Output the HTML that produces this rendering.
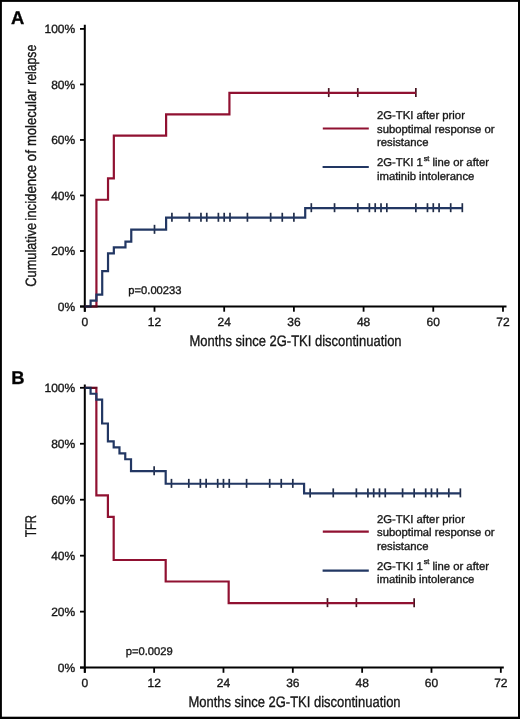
<!DOCTYPE html>
<html><head><meta charset="utf-8"><title>Figure</title>
<style>html,body{margin:0;padding:0;background:#fff;width:520px;height:719px;overflow:hidden}svg{display:block}text{text-rendering:geometricPrecision;filter:grayscale(1);stroke:#151515;stroke-width:0.35px}</style>
</head><body>
<svg width="520" height="719" viewBox="0 0 520 719" font-family="'Liberation Sans', sans-serif">
<rect width="520" height="719" fill="#fff"/><g opacity="0.995">
<text x="10.9" y="23.8" font-size="18.4" font-weight="bold" fill="#000">A</text>
<text x="11.2" y="384.1" font-size="18.4" font-weight="bold" fill="#000">B</text>
<text x="189.4" y="345.9" font-size="15.2" fill="#151515" textLength="212.2" lengthAdjust="spacingAndGlyphs">Months since 2G-TKI discontinuation</text>
<text x="188.4" y="706.8" font-size="15.2" fill="#151515" textLength="212.2" lengthAdjust="spacingAndGlyphs">Months since 2G-TKI discontinuation</text>
<text transform="translate(36.3 0) rotate(-90)" x="-286.7" y="0" font-size="15" fill="#151515" textLength="63.9" lengthAdjust="spacingAndGlyphs">Cumulative</text>
<text transform="translate(36.3 0) rotate(-90)" x="-220.8" y="0" font-size="15" fill="#151515" textLength="56" lengthAdjust="spacingAndGlyphs">incidence</text>
<text transform="translate(36.3 0) rotate(-90)" x="-161.4" y="0" font-size="15" fill="#151515" textLength="11.4" lengthAdjust="spacingAndGlyphs">of</text>
<text transform="translate(36.3 0) rotate(-90)" x="-146.1" y="0" font-size="15" fill="#151515" textLength="56.6" lengthAdjust="spacingAndGlyphs">molecular</text>
<text transform="translate(36.3 0) rotate(-90)" x="-84.8" y="0" font-size="15" fill="#151515" textLength="40" lengthAdjust="spacingAndGlyphs">relapse</text>
<text transform="translate(36.4 537.0) rotate(-90)" x="0" y="0" font-size="15.5" fill="#151515" textLength="22.0" lengthAdjust="spacingAndGlyphs">TFR</text>
<line x1="84.8" y1="24.8" x2="84.8" y2="311.7" stroke="#000" stroke-width="2"/>
<line x1="80" y1="306.5" x2="506.5" y2="306.5" stroke="#000" stroke-width="2"/>
<line x1="80" y1="306.5" x2="84.8" y2="306.5" stroke="#000" stroke-width="1.8"/>
<text x="75.2" y="310.8" text-anchor="end" font-size="12" fill="#151515">0%</text>
<line x1="80" y1="250.98" x2="84.8" y2="250.98" stroke="#000" stroke-width="1.8"/>
<text x="75.2" y="255.28" text-anchor="end" font-size="12" fill="#151515">20%</text>
<line x1="80" y1="195.46" x2="84.8" y2="195.46" stroke="#000" stroke-width="1.8"/>
<text x="75.2" y="199.76" text-anchor="end" font-size="12" fill="#151515">40%</text>
<line x1="80" y1="139.94" x2="84.8" y2="139.94" stroke="#000" stroke-width="1.8"/>
<text x="75.2" y="144.24" text-anchor="end" font-size="12" fill="#151515">60%</text>
<line x1="80" y1="84.42" x2="84.8" y2="84.42" stroke="#000" stroke-width="1.8"/>
<text x="75.2" y="88.72" text-anchor="end" font-size="12" fill="#151515">80%</text>
<line x1="80" y1="28.9" x2="84.8" y2="28.9" stroke="#000" stroke-width="1.8"/>
<text x="75.2" y="33.2" text-anchor="end" font-size="12" fill="#151515">100%</text>
<line x1="84.8" y1="306.5" x2="84.8" y2="311.7" stroke="#000" stroke-width="1.8"/>
<text x="84.8" y="326.1" text-anchor="middle" font-size="12" fill="#151515">0</text>
<line x1="154.5" y1="306.5" x2="154.5" y2="311.7" stroke="#000" stroke-width="1.8"/>
<text x="154.5" y="326.1" text-anchor="middle" font-size="12" fill="#151515">12</text>
<line x1="224.19" y1="306.5" x2="224.19" y2="311.7" stroke="#000" stroke-width="1.8"/>
<text x="224.19" y="326.1" text-anchor="middle" font-size="12" fill="#151515">24</text>
<line x1="293.89" y1="306.5" x2="293.89" y2="311.7" stroke="#000" stroke-width="1.8"/>
<text x="293.89" y="326.1" text-anchor="middle" font-size="12" fill="#151515">36</text>
<line x1="363.58" y1="306.5" x2="363.58" y2="311.7" stroke="#000" stroke-width="1.8"/>
<text x="363.58" y="326.1" text-anchor="middle" font-size="12" fill="#151515">48</text>
<line x1="433.28" y1="306.5" x2="433.28" y2="311.7" stroke="#000" stroke-width="1.8"/>
<text x="433.28" y="326.1" text-anchor="middle" font-size="12" fill="#151515">60</text>
<line x1="502.98" y1="306.5" x2="502.98" y2="311.7" stroke="#000" stroke-width="1.8"/>
<text x="502.98" y="326.1" text-anchor="middle" font-size="12" fill="#151515">72</text>
<g stroke="#1f2b46" stroke-width="1.7"><line x1="154.5" y1="224.82" x2="154.5" y2="233.82"/><line x1="171.92" y1="212.77" x2="171.92" y2="221.77"/><line x1="189.34" y1="212.77" x2="189.34" y2="221.77"/><line x1="200.96" y1="212.77" x2="200.96" y2="221.77"/><line x1="206.77" y1="212.77" x2="206.77" y2="221.77"/><line x1="218.38" y1="212.77" x2="218.38" y2="221.77"/><line x1="224.19" y1="212.77" x2="224.19" y2="221.77"/><line x1="230" y1="212.77" x2="230" y2="221.77"/><line x1="247.42" y1="212.77" x2="247.42" y2="221.77"/><line x1="270.66" y1="212.77" x2="270.66" y2="221.77"/><line x1="282.27" y1="212.77" x2="282.27" y2="221.77"/><line x1="293.89" y1="212.77" x2="293.89" y2="221.77"/><line x1="311.31" y1="203.19" x2="311.31" y2="212.19"/><line x1="334.54" y1="203.19" x2="334.54" y2="212.19"/><line x1="357.78" y1="203.19" x2="357.78" y2="212.19"/><line x1="369.39" y1="203.19" x2="369.39" y2="212.19"/><line x1="375.2" y1="203.19" x2="375.2" y2="212.19"/><line x1="381.01" y1="203.19" x2="381.01" y2="212.19"/><line x1="386.82" y1="203.19" x2="386.82" y2="212.19"/><line x1="415.86" y1="203.19" x2="415.86" y2="212.19"/><line x1="427.47" y1="203.19" x2="427.47" y2="212.19"/><line x1="433.28" y1="203.19" x2="433.28" y2="212.19"/><line x1="439.09" y1="203.19" x2="439.09" y2="212.19"/><line x1="450.7" y1="203.19" x2="450.7" y2="212.19"/><line x1="462.32" y1="203.19" x2="462.32" y2="212.19"/></g>
<g stroke="#45121f" stroke-width="1.7"><line x1="328.74" y1="88.06" x2="328.74" y2="97.06"/><line x1="357.78" y1="88.06" x2="357.78" y2="97.06"/><line x1="415.86" y1="88.06" x2="415.86" y2="97.06"/></g>
<path d="M84.8 306.5 H96.42 V199.73 H108.03 V178.38 H113.84 V135.67 H166.11 V114.32 H229.42 V92.96 H415.86" fill="none" stroke="#901030" stroke-width="2.2" stroke-linejoin="miter" stroke-linecap="butt"/>
<path d="M84.8 306.5 H90.61 V300.59 H96.42 V294.69 H102.22 V271.06 H108.03 V253.34 H113.84 V247.44 H125.46 V241.53 H131.26 V229.72 H166.11 V217.67 H305.21 V208.09 H462.32" fill="none" stroke="#213662" stroke-width="2.2" stroke-linejoin="miter" stroke-linecap="butt"/>
<line x1="84.8" y1="306.5" x2="97.58" y2="306.5" stroke="#000" stroke-width="2" opacity="0.45"/>
<text x="128.3" y="293.9" font-size="11.2" fill="#151515">p=0.00233</text>
<line x1="322.8" y1="128.5" x2="368.8" y2="128.5" stroke="#901030" stroke-width="2.2"/>
<line x1="322.6" y1="167" x2="368.8" y2="167" stroke="#213662" stroke-width="2.2"/>
<text x="377" y="119.2" font-size="11.3" fill="#151515">2G-TKI after prior</text>
<text x="377" y="132.7" font-size="11.3" fill="#151515">suboptimal response or</text>
<text x="377" y="146.2" font-size="11.3" fill="#151515">resistance</text>
<text x="377" y="166.2" font-size="11.3" fill="#151515">2G-TKI 1<tspan font-size="7.3" dx="0.8" dy="-5.2">st</tspan><tspan dy="5.2"> line or after</tspan></text>
<text x="377" y="179.6" font-size="11.3" fill="#151515">imatinib intolerance</text>
<line x1="84.8" y1="384.4" x2="84.8" y2="672.8" stroke="#000" stroke-width="2"/>
<line x1="80" y1="667.6" x2="503.8" y2="667.6" stroke="#000" stroke-width="2"/>
<line x1="80" y1="667.6" x2="84.8" y2="667.6" stroke="#000" stroke-width="1.8"/>
<text x="75.2" y="671.9" text-anchor="end" font-size="12" fill="#151515">0%</text>
<line x1="80" y1="611.64" x2="84.8" y2="611.64" stroke="#000" stroke-width="1.8"/>
<text x="75.2" y="615.94" text-anchor="end" font-size="12" fill="#151515">20%</text>
<line x1="80" y1="555.68" x2="84.8" y2="555.68" stroke="#000" stroke-width="1.8"/>
<text x="75.2" y="559.98" text-anchor="end" font-size="12" fill="#151515">40%</text>
<line x1="80" y1="499.72" x2="84.8" y2="499.72" stroke="#000" stroke-width="1.8"/>
<text x="75.2" y="504.02" text-anchor="end" font-size="12" fill="#151515">60%</text>
<line x1="80" y1="443.76" x2="84.8" y2="443.76" stroke="#000" stroke-width="1.8"/>
<text x="75.2" y="448.06" text-anchor="end" font-size="12" fill="#151515">80%</text>
<line x1="80" y1="387.8" x2="84.8" y2="387.8" stroke="#000" stroke-width="1.8"/>
<text x="75.2" y="392.1" text-anchor="end" font-size="12" fill="#151515">100%</text>
<line x1="84.8" y1="667.6" x2="84.8" y2="672.8" stroke="#000" stroke-width="1.8"/>
<text x="84.8" y="687.2" text-anchor="middle" font-size="12" fill="#151515">0</text>
<line x1="154.14" y1="667.6" x2="154.14" y2="672.8" stroke="#000" stroke-width="1.8"/>
<text x="154.14" y="687.2" text-anchor="middle" font-size="12" fill="#151515">12</text>
<line x1="223.47" y1="667.6" x2="223.47" y2="672.8" stroke="#000" stroke-width="1.8"/>
<text x="223.47" y="687.2" text-anchor="middle" font-size="12" fill="#151515">24</text>
<line x1="292.81" y1="667.6" x2="292.81" y2="672.8" stroke="#000" stroke-width="1.8"/>
<text x="292.81" y="687.2" text-anchor="middle" font-size="12" fill="#151515">36</text>
<line x1="362.14" y1="667.6" x2="362.14" y2="672.8" stroke="#000" stroke-width="1.8"/>
<text x="362.14" y="687.2" text-anchor="middle" font-size="12" fill="#151515">48</text>
<line x1="431.48" y1="667.6" x2="431.48" y2="672.8" stroke="#000" stroke-width="1.8"/>
<text x="431.48" y="687.2" text-anchor="middle" font-size="12" fill="#151515">60</text>
<line x1="500.82" y1="667.6" x2="500.82" y2="672.8" stroke="#000" stroke-width="1.8"/>
<text x="500.82" y="687.2" text-anchor="middle" font-size="12" fill="#151515">72</text>
<g stroke="#1f2b46" stroke-width="1.7"><line x1="154.14" y1="466.24" x2="154.14" y2="475.24"/><line x1="171.47" y1="478.87" x2="171.47" y2="487.87"/><line x1="188.8" y1="478.87" x2="188.8" y2="487.87"/><line x1="200.36" y1="478.87" x2="200.36" y2="487.87"/><line x1="206.14" y1="478.87" x2="206.14" y2="487.87"/><line x1="217.69" y1="478.87" x2="217.69" y2="487.87"/><line x1="223.47" y1="478.87" x2="223.47" y2="487.87"/><line x1="229.25" y1="478.87" x2="229.25" y2="487.87"/><line x1="246.58" y1="478.87" x2="246.58" y2="487.87"/><line x1="269.7" y1="478.87" x2="269.7" y2="487.87"/><line x1="281.25" y1="478.87" x2="281.25" y2="487.87"/><line x1="292.81" y1="478.87" x2="292.81" y2="487.87"/><line x1="310.14" y1="488.38" x2="310.14" y2="497.38"/><line x1="333.25" y1="488.38" x2="333.25" y2="497.38"/><line x1="356.37" y1="488.38" x2="356.37" y2="497.38"/><line x1="367.92" y1="488.38" x2="367.92" y2="497.38"/><line x1="373.7" y1="488.38" x2="373.7" y2="497.38"/><line x1="379.48" y1="488.38" x2="379.48" y2="497.38"/><line x1="385.26" y1="488.38" x2="385.26" y2="497.38"/><line x1="402.59" y1="488.38" x2="402.59" y2="497.38"/><line x1="414.15" y1="488.38" x2="414.15" y2="497.38"/><line x1="425.7" y1="488.38" x2="425.7" y2="497.38"/><line x1="431.48" y1="488.38" x2="431.48" y2="497.38"/><line x1="437.26" y1="488.38" x2="437.26" y2="497.38"/><line x1="448.81" y1="488.38" x2="448.81" y2="497.38"/><line x1="460.37" y1="488.38" x2="460.37" y2="497.38"/></g>
<g stroke="#45121f" stroke-width="1.7"><line x1="327.48" y1="598.13" x2="327.48" y2="607.13"/><line x1="356.37" y1="598.13" x2="356.37" y2="607.13"/><line x1="414.15" y1="598.13" x2="414.15" y2="607.13"/></g>
<path d="M84.8 387.8 H96.36 V495.42 H107.91 V516.94 H113.69 V559.98 H165.69 V581.51 H228.67 V603.03 H414.15" fill="none" stroke="#901030" stroke-width="2.2" stroke-linejoin="miter" stroke-linecap="butt"/>
<path d="M84.8 387.8 H90.58 V393.75 H96.36 V399.71 H102.13 V423.52 H107.91 V441.38 H113.69 V447.33 H119.47 V453.29 H125.25 V459.24 H131.02 V471.14 H165.69 V483.77 H304.08 V493.28 H460.37" fill="none" stroke="#213662" stroke-width="2.2" stroke-linejoin="miter" stroke-linecap="butt"/>
<line x1="84.8" y1="387.8" x2="97.51" y2="387.8" stroke="#000" stroke-width="2" opacity="0.3"/>
<text x="125.7" y="654.8" font-size="11.2" fill="#151515">p=0.0029</text>
<line x1="322.8" y1="531.6" x2="368.8" y2="531.6" stroke="#901030" stroke-width="2.2"/>
<line x1="322.6" y1="570.7" x2="368.8" y2="570.7" stroke="#213662" stroke-width="2.2"/>
<text x="377" y="522.7" font-size="11.3" fill="#151515">2G-TKI after prior</text>
<text x="377" y="536.2" font-size="11.3" fill="#151515">suboptimal response or</text>
<text x="377" y="549.7" font-size="11.3" fill="#151515">resistance</text>
<text x="377" y="569.6" font-size="11.3" fill="#151515">2G-TKI 1<tspan font-size="7.3" dx="0.8" dy="-5.2">st</tspan><tspan dy="5.2"> line or after</tspan></text>
<text x="377" y="583" font-size="11.3" fill="#151515">imatinib intolerance</text>
<rect x="0" y="0" width="520" height="1.9" fill="#000"/>
<rect x="0" y="0" width="1.9" height="719" fill="#000"/>
<rect x="518" y="0" width="2" height="719" fill="#000"/>
<rect x="0" y="716.7" width="520" height="2.3" fill="#000"/>
</g></svg>
</body></html>
